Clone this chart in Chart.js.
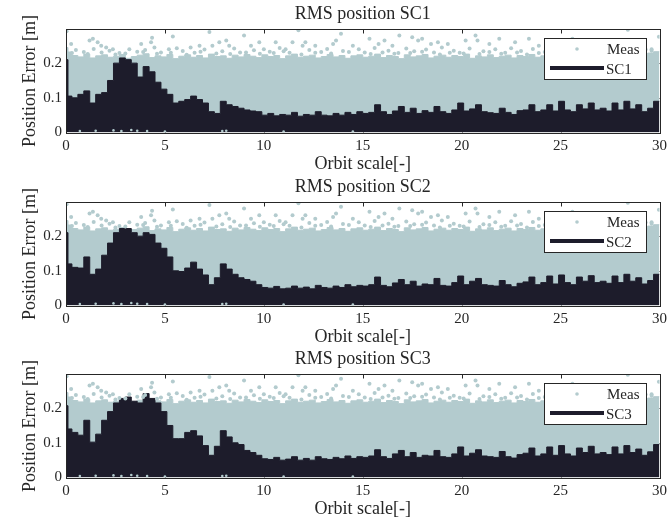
<!DOCTYPE html>
<html>
<head>
<meta charset="utf-8">
<script src="https://cdn.jsdelivr.net/npm/chart.js@4.4.1/dist/chart.umd.min.js"></script>
<style>
  html, body { margin: 0; padding: 0; background: #fff; }
  #wrap { position: relative; width: 672px; height: 523px; overflow: hidden; background: #fff; }
  canvas { position: absolute; left: 0; }
</style>
</head>
<body>
<div id="wrap">
  <canvas id="sc1" width="672" height="178" style="top:0px"></canvas>
  <canvas id="sc2" width="672" height="178" style="top:173px"></canvas>
  <canvas id="sc3" width="672" height="178" style="top:345px"></canvas>
</div>
<script>
// orbit scale positions (start of each step)
const orbit = [0, 0.1,
  0.3,0.6,0.9,1.2,1.5,1.8,2.1,2.4,2.7,3,
  3.3,3.6,3.9,4.2,4.5,4.8,5.1,5.4,5.7,6,
  6.3,6.6,6.9,7.2,7.5,7.8,8.1,8.4,8.7,9,
  9.3,9.6,9.9,10.2,10.5,10.8,11.1,11.4,11.7,12,
  12.3,12.6,12.9,13.2,13.5,13.8,14.1,14.4,14.7,15,
  15.3,15.6,15.9,16.2,16.5,16.8,17.1,17.4,17.7,18,
  18.3,18.6,18.9,19.2,19.5,19.8,20.1,20.4,20.7,21,
  21.3,21.6,21.9,22.2,22.5,22.8,23.1,23.4,23.7,24,
  24.3,24.6,24.9,25.2,25.5,25.8,26.1,26.4,26.7,27,
  27.3,27.6,27.9,28.2,28.5,28.8,29.1,29.4,29.7,30];

const xTicks = [0, 5, 10, 15, 20, 25, 30];
const yTicks = [0, 0.1, 0.2];

// dense body of the measurements (upper edge of the band)
const measBand = [0.245, 0.232,
  0.222,0.218,0.226,0.215,0.221,0.224,0.217,0.22,0.225,0.214,
  0.219,0.223,0.227,0.216,0.221,0.218,0.225,0.213,0.22,0.224,
  0.217,0.222,0.215,0.226,0.219,0.221,0.214,0.223,0.218,0.225,
  0.22,0.216,0.224,0.219,0.222,0.213,0.221,0.226,0.217,0.22,
  0.223,0.215,0.219,0.225,0.218,0.222,0.214,0.221,0.224,0.217,
  0.22,0.226,0.216,0.222,0.219,0.213,0.224,0.218,0.221,0.225,
  0.215,0.22,0.223,0.217,0.222,0.219,0.226,0.214,0.221,0.218,
  0.224,0.216,0.22,0.223,0.215,0.222,0.219,0.225,0.217,0.221,
  0.214,0.223,0.218,0.22,0.226,0.216,0.222,0.219,0.224,0.217,
  0.221,0.225,0.218,0.222,0.227,0.219,0.224,0.229,0.233,0.233];

// scattered measurement points (outliers, fuzzy edge, points near zero)
const measX = [0.03,0.26,1.19,1.36,1.6,1.78,2.03,2.37,3.8,4.35,4.3,4.47,5.4,5.2,6.3,6.75,7.25,7.4,7.75,8.1,
  8.25,9.0,9.35,9.77,10.0,10.6,11.1,11.45,11.75,11.96,12.1,12.6,13.5,13.9,13.65,14.5,15.34,15.8,16.1,16.5,
  16.85,17.5,17.8,18.0,18.45,18.8,19.3,20.2,20.7,20.8,21.4,21.9,22.7,23.4,23.9,24.9,25.6,28.4,29.6,29.97,
  0.5,0.9,1.4,2.2,2.7,3.2,3.6,4.0,4.8,5.6,5.9,6.5,7.0,7.9,8.5,8.8,9.5,10.3,10.8,11.3,
  12.3,12.9,13.2,14.0,14.8,15.1,15.6,16.3,16.8,17.2,17.6,18.2,18.6,19.0,19.6,19.9,20.4,21.1,21.7,22.2,
  22.5,23.0,23.6,24.2,24.6,25.0,25.4,26.0,26.5,27.1,27.8,28.2,28.8,29.3,
  0.7,1.5,2.4,2.8,3.3,3.6,4.1,5.0,7.9,8.1,11.0,14.5,
  0.3,1.1,1.8,2.5,3.0,3.9,4.6,5.3,6.1,6.8,7.6,8.3,9.1,9.8,10.5,11.0,11.9,12.6,13.4,14.3,
  15.4,16.0,16.6,17.4,18.0,18.9,19.4,20.1,20.9,21.4,22.0,22.8,23.3,23.9,24.4,25.2,25.8,26.3,26.8,27.4,
  27.9,28.5,29.0,29.6];
const measY = [0.292,0.255,0.265,0.27,0.26,0.25,0.245,0.24,0.255,0.273,0.26,0.245,0.277,0.24,0.245,0.25,0.29,0.25,0.26,0.265,
  0.25,0.28,0.25,0.26,0.24,0.26,0.24,0.26,0.295,0.25,0.26,0.25,0.255,0.285,0.265,0.25,0.27,0.255,0.265,0.25,
  0.28,0.275,0.265,0.27,0.255,0.26,0.255,0.265,0.28,0.265,0.255,0.27,0.26,0.27,0.25,0.26,0.27,0.296,0.24,0.276,
  0.238,0.232,0.241,0.236,0.229,0.24,0.233,0.238,0.231,0.243,0.235,0.23,0.239,0.234,0.242,0.231,0.237,0.233,0.244,0.23,
  0.238,0.232,0.241,0.235,0.24,0.231,0.244,0.236,0.229,0.242,0.234,0.239,0.231,0.245,0.236,0.23,0.242,0.234,0.24,0.23,
  0.243,0.235,0.241,0.232,0.246,0.236,0.229,0.24,0.233,0.238,0.231,0.242,0.235,0.239,
  0.004,0.005,0.006,0.004,0.007,0.005,0.004,0.003,0.004,0.005,0.003,0.003,
  0.229,0.226,0.231,0.225,0.228,0.232,0.227,0.23,0.224,0.233,0.228,0.226,0.231,0.227,0.229,0.234,0.225,0.23,0.228,0.232,
  0.226,0.231,0.227,0.229,0.233,0.225,0.23,0.228,0.226,0.232,0.227,0.231,0.225,0.229,0.233,0.226,0.23,0.228,0.232,0.225,
  0.229,0.231,0.227,0.236];

const sc1 = [0.21, 0.105,
  0.1,0.11,0.12,0.085,0.11,0.115,0.15,0.2,0.215,0.21,
  0.2,0.16,0.19,0.175,0.145,0.125,0.11,0.085,0.09,0.095,
  0.105,0.095,0.085,0.06,0.055,0.09,0.08,0.075,0.07,0.065,
  0.062,0.06,0.05,0.055,0.048,0.052,0.05,0.058,0.047,0.052,
  0.05,0.06,0.05,0.048,0.055,0.05,0.058,0.052,0.06,0.055,
  0.058,0.08,0.06,0.052,0.062,0.075,0.058,0.07,0.055,0.063,
  0.058,0.075,0.06,0.055,0.065,0.085,0.062,0.068,0.08,0.06,
  0.057,0.055,0.07,0.058,0.052,0.063,0.065,0.08,0.06,0.065,
  0.08,0.062,0.09,0.065,0.06,0.08,0.068,0.085,0.065,0.07,
  0.062,0.085,0.065,0.09,0.068,0.08,0.06,0.07,0.09,0.09];

const sc2 = [0.21, 0.12,
  0.11,0.108,0.14,0.09,0.105,0.145,0.18,0.21,0.222,0.222,
  0.21,0.2,0.21,0.205,0.18,0.165,0.14,0.1,0.098,0.108,
  0.125,0.105,0.088,0.06,0.08,0.12,0.105,0.09,0.08,0.075,
  0.07,0.06,0.052,0.05,0.055,0.048,0.05,0.056,0.05,0.053,
  0.048,0.058,0.052,0.05,0.056,0.052,0.06,0.054,0.058,0.056,
  0.06,0.082,0.058,0.054,0.065,0.075,0.06,0.07,0.056,0.062,
  0.06,0.078,0.058,0.056,0.066,0.085,0.06,0.07,0.078,0.06,
  0.058,0.056,0.072,0.06,0.054,0.064,0.068,0.082,0.06,0.066,
  0.085,0.062,0.088,0.066,0.06,0.082,0.07,0.086,0.066,0.07,
  0.064,0.085,0.066,0.09,0.07,0.08,0.062,0.072,0.09,0.09];

const sc3 = [0.207, 0.14,
  0.13,0.122,0.165,0.102,0.125,0.165,0.19,0.215,0.228,0.232,
  0.22,0.215,0.242,0.228,0.215,0.19,0.15,0.112,0.112,0.13,
  0.135,0.12,0.092,0.064,0.09,0.135,0.117,0.1,0.095,0.078,
  0.072,0.064,0.054,0.052,0.058,0.05,0.053,0.06,0.05,0.055,
  0.05,0.06,0.054,0.052,0.058,0.054,0.062,0.055,0.06,0.058,
  0.062,0.08,0.06,0.055,0.068,0.078,0.06,0.072,0.058,0.064,
  0.062,0.078,0.06,0.058,0.068,0.088,0.062,0.07,0.08,0.062,
  0.06,0.058,0.075,0.06,0.056,0.066,0.07,0.085,0.062,0.068,
  0.088,0.064,0.092,0.068,0.062,0.085,0.072,0.09,0.068,0.072,
  0.066,0.088,0.068,0.092,0.072,0.082,0.064,0.074,0.095,0.095];

const MEAS = '#b3cbce';
const DARK = '#1d1c2b';
const INK = '#262626';
const SERIF = '"Liberation Serif", "Times New Roman", serif';

// frame, inner ticks, title and legend in matlab style
const matlabAxes = {
  id: 'matlabAxes',
  beforeDatasetsDraw(chart) {
    const {ctx, chartArea: a, scales: {x, y}} = chart;
    ctx.save();
    ctx.strokeStyle = INK;
    ctx.lineWidth = 1;
    ctx.beginPath();
    xTicks.forEach(v => {
      const px = Math.round(x.getPixelForValue(v)) + 0.5;
      ctx.moveTo(px, a.top); ctx.lineTo(px, a.top + 4);
      ctx.moveTo(px, a.bottom); ctx.lineTo(px, a.bottom - 4);
    });
    yTicks.forEach(v => {
      const py = Math.round(y.getPixelForValue(v)) + 0.5;
      ctx.moveTo(a.left, py); ctx.lineTo(a.left + 4, py);
      ctx.moveTo(a.right, py); ctx.lineTo(a.right - 4, py);
    });
    ctx.stroke();
    ctx.restore();
  },
  afterDatasetsDraw(chart, args, opts) {
    const {ctx, chartArea: a} = chart;
    ctx.save();
    // box
    ctx.strokeStyle = INK;
    ctx.lineWidth = 1;
    ctx.strokeRect(Math.round(a.left) + 0.5, Math.round(a.top) - 0.5,
      Math.round(a.right - a.left), Math.round(a.bottom - a.top) + 1);

    // legend
    const bw = 102, bh = 41;
    const bx = Math.round(a.right - 14 - bw), by = Math.round(a.top + 8.5);
    ctx.fillStyle = '#fff';
    ctx.fillRect(bx, by, bw, bh);
    ctx.strokeRect(bx + 0.5, by + 0.5, bw, bh);
    ctx.font = '15px ' + SERIF;
    ctx.textAlign = 'left';
    ctx.textBaseline = 'alphabetic';
    const ds = chart.data.datasets;
    // Meas entry
    ctx.fillStyle = MEAS;
    ctx.beginPath();
    ctx.arc(bx + 33, by + 11, 1.8, 0, Math.PI * 2);
    ctx.fill();
    ctx.fillStyle = INK;
    ctx.fillText(ds[0].label, bx + 63, by + 15.5);
    // SC entry
    ctx.strokeStyle = DARK;
    ctx.lineWidth = 4;
    ctx.beginPath();
    ctx.moveTo(bx + 6, by + 30); ctx.lineTo(bx + 60, by + 30);
    ctx.stroke();
    ctx.fillStyle = INK;
    ctx.fillText(ds[1].label, bx + 62, by + 35.5);

    // title
    ctx.font = '18px ' + SERIF;
    ctx.textAlign = 'center';
    ctx.fillText(opts.title, (a.left + a.right) / 2, a.top - 10.3);
    ctx.restore();
  }
};

function makeChart(id, title, label, values) {
  return new Chart(document.getElementById(id), {
    type: 'line',
    data: {
      labels: orbit,
      datasets: [
        {
          type: 'scatter',
          label: 'Meas',
          data: measX.map((x, i) => ({x: x, y: measY[i]})),
          pointRadius: c => (measY[c.dataIndex] < 0.02 ? 1.3 : 2),
          pointBackgroundColor: MEAS,
          pointBorderWidth: 0,
          showLine: false
        },
        {
          label: label,
          data: values,
          stepped: true,
          fill: 'origin',
          backgroundColor: DARK,
          borderColor: DARK,
          borderWidth: 1,
          pointRadius: 0
        },
        {
          label: 'Meas',
          data: measBand,
          stepped: true,
          fill: 'origin',
          backgroundColor: MEAS,
          borderColor: MEAS,
          borderWidth: 1,
          pointRadius: 0
        }
      ]
    },
    options: {
      responsive: false,
      animation: false,
      events: [],
      layout: {padding: {top: 29.5, right: 12, left: 0, bottom: 0}},
      plugins: {
        legend: {display: false},
        tooltip: {enabled: false},
        matlabAxes: {title: title}
      },
      scales: {
        x: {
          type: 'linear',
          min: 0,
          max: 30,
          grid: {display: false, drawTicks: false},
          border: {display: false},
          afterBuildTicks: s => { s.ticks = xTicks.map(v => ({value: v})); },
          afterFit: s => { s.height = 45.5; },
          ticks: {padding: 5, maxRotation: 0, autoSkip: false, color: INK,
                  font: {family: SERIF, size: 15}, callback: v => String(v)},
          title: {display: true, text: 'Orbit scale[-]', color: INK,
                  font: {family: SERIF, size: 18}, padding: {top: 0, bottom: 2.8}}
        },
        y: {
          type: 'linear',
          min: 0,
          max: 0.297,
          grid: {display: false, drawTicks: false},
          border: {display: false},
          afterBuildTicks: s => { s.ticks = yTicks.map(v => ({value: v})); },
          afterFit: s => { s.width = 66; },
          ticks: {padding: 4, color: INK, font: {family: SERIF, size: 15},
                  callback: v => String(v)},
          title: {display: true, text: 'Position Error [m]', color: INK,
                  font: {family: SERIF, size: 18}, padding: {top: 19.5, bottom: 0}}
        }
      }
    },
    plugins: [matlabAxes]
  });
}

makeChart('sc1', 'RMS position SC1', 'SC1', sc1);
makeChart('sc2', 'RMS position SC2', 'SC2', sc2);
makeChart('sc3', 'RMS position SC3', 'SC3', sc3);
</script>
</body>
</html>
